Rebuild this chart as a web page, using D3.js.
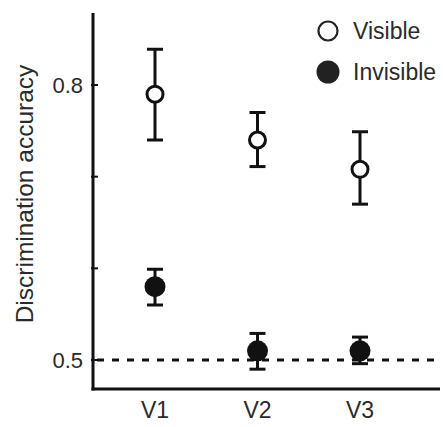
<!DOCTYPE html>
<html>
<head>
<meta charset="utf-8">
<script src="https://cdn.jsdelivr.net/npm/d3@7"></script>
<style>
  body { margin: 0; background: #fff; }
  text { font-family: "Liberation Sans", Arial, sans-serif; fill: #2a2a2a; }
</style>
</head>
<body>
<svg id="chart"></svg>
<script>
// data
const conditions = ["V1", "V2", "V3"];
const visibleMean = [0.790, 0.740, 0.708];
const visibleLow = [0.740, 0.711, 0.670];
const visibleHigh = [0.839, 0.770, 0.749];
const invisibleMean = [0.580, 0.510, 0.510];
const invisibleLow = [0.560, 0.490, 0.496];
const invisibleHigh = [0.599, 0.529, 0.525];
const yTicks = [0.5, 0.6, 0.7, 0.8];
const yTickLabels = ["0.5", "", "", "0.8"];
const chance = 0.5;

const W = 443, H = 427;
const svg = d3.select("#chart").attr("width", W).attr("height", H);

const axisX = 93, axisTop = 13, axisBottom = 389, axisRight = 440;

const x = d3.scalePoint().domain(conditions).range([155, 360]);
const y = d3.scaleLinear().domain([0.5, 0.8]).range([360, 85]);

const ink = "#111";

// chance line
svg.append("line")
  .attr("x1", axisX + 4).attr("x2", axisRight)
  .attr("y1", y(chance)).attr("y2", y(chance))
  .attr("stroke", ink).attr("stroke-width", 3)
  .attr("stroke-dasharray", "7,8");

// axes
svg.append("line")
  .attr("x1", axisX).attr("x2", axisX)
  .attr("y1", axisTop).attr("y2", axisBottom + 1.5)
  .attr("stroke", ink).attr("stroke-width", 3);
svg.append("line")
  .attr("x1", axisX - 1.5).attr("x2", axisRight)
  .attr("y1", axisBottom).attr("y2", axisBottom)
  .attr("stroke", ink).attr("stroke-width", 3);

svg.selectAll(".ytick")
  .data(yTicks)
  .enter().append("line")
  .attr("class", "ytick")
  .attr("x1", axisX - 2).attr("x2", axisX + 5)
  .attr("y1", d => y(d)).attr("y2", d => y(d))
  .attr("stroke", ink).attr("stroke-width", 2);

svg.selectAll(".ylab")
  .data(yTicks)
  .enter().append("text")
  .attr("class", "ylab")
  .attr("x", 83)
  .attr("y", d => y(d))
  .attr("dy", "0.36em")
  .attr("text-anchor", "end")
  .attr("font-size", 22)
  .text((d, i) => yTickLabels[i]);

svg.selectAll(".xlab")
  .data(conditions)
  .enter().append("text")
  .attr("class", "xlab")
  .attr("x", d => x(d))
  .attr("y", 418)
  .attr("text-anchor", "middle")
  .attr("font-size", 23)
  .text(d => d);

svg.append("text")
  .attr("transform", "translate(33,194) rotate(-90)")
  .attr("text-anchor", "middle")
  .attr("font-size", 24.5)
  .text("Discrimination accuracy");

// error bars + markers
function drawSeries(mean, low, high, filled, r) {
  const g = svg.append("g");
  const rows = conditions.map((c, i) => ({ c, m: mean[i], lo: low[i], hi: high[i] }));
  const cap = 8;
  g.selectAll(".stem").data(rows).enter().append("line")
    .attr("x1", d => x(d.c)).attr("x2", d => x(d.c))
    .attr("y1", d => y(d.lo)).attr("y2", d => y(d.hi))
    .attr("stroke", ink).attr("stroke-width", 3);
  g.selectAll(".capHi").data(rows).enter().append("line")
    .attr("x1", d => x(d.c) - cap).attr("x2", d => x(d.c) + cap)
    .attr("y1", d => y(d.hi)).attr("y2", d => y(d.hi))
    .attr("stroke", ink).attr("stroke-width", 3);
  g.selectAll(".capLo").data(rows).enter().append("line")
    .attr("x1", d => x(d.c) - cap).attr("x2", d => x(d.c) + cap)
    .attr("y1", d => y(d.lo)).attr("y2", d => y(d.lo))
    .attr("stroke", ink).attr("stroke-width", 3);
  g.selectAll("circle").data(rows).enter().append("circle")
    .attr("cx", d => x(d.c)).attr("cy", d => y(d.m))
    .attr("r", r)
    .attr("fill", filled ? ink : "#fff")
    .attr("stroke", ink).attr("stroke-width", filled ? 0 : 3);
}
drawSeries(visibleMean, visibleLow, visibleHigh, false, 8);
drawSeries(invisibleMean, invisibleLow, invisibleHigh, true, 10.5);

// legend
const legend = [
  { label: "Visible", filled: false, cy: 31 },
  { label: "Invisible", filled: true, cy: 72 }
];
const lg = svg.append("g");
lg.selectAll("circle").data(legend).enter().append("circle")
  .attr("cx", 328).attr("cy", d => d.cy)
  .attr("r", d => d.filled ? 11.5 : 9.5)
  .attr("fill", d => d.filled ? "#222" : "#fff")
  .attr("stroke", "#222").attr("stroke-width", d => d.filled ? 0 : 2.2);
lg.selectAll("text").data(legend).enter().append("text")
  .attr("x", 353).attr("y", d => d.cy)
  .attr("dy", "0.36em")
  .attr("font-size", 23)
  .text(d => d.label);
</script>
</body>
</html>
